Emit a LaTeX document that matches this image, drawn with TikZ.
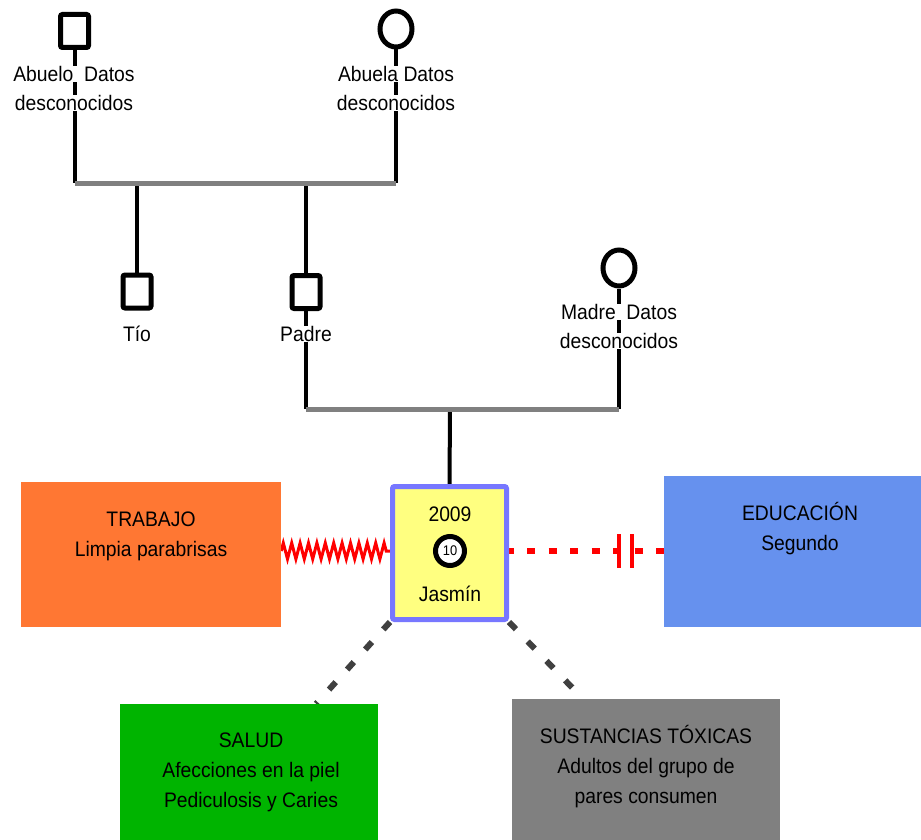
\documentclass[tikz,border=0pt]{standalone}
\usepackage{fontspec}
\setmainfont{Liberation Sans}[FakeStretch=0.92]
\usetikzlibrary{shapes.geometric,decorations.pathmorphing,backgrounds,calc}
\definecolor{barGrey}{HTML}{808080}
\definecolor{dashGrey}{HTML}{404040}
\definecolor{trabajoC}{HTML}{FF7733}
\definecolor{eduC}{HTML}{6691EE}
\definecolor{saludC}{HTML}{00B400}
\definecolor{sustC}{HTML}{808080}
\definecolor{egoFill}{HTML}{FFFF80}
\definecolor{egoLine}{HTML}{7777FF}
\definecolor{relRed}{HTML}{FF0000}
\begin{document}
\begin{tikzpicture}[x=1pt,y=-1pt,
  lbl/.style={font=\fontsize{21}{30}\selectfont, align=center, inner sep=1pt, text=black},
  lblw/.style={lbl, fill=white, inner sep=0.5pt},
  male/.style={draw, line width=5, minimum width=28, minimum height=33, rounded corners=2, fill=white, inner sep=0},
  female/.style={ellipse, draw, line width=5, minimum width=32, minimum height=36, fill=white, inner sep=0},
  life/.style={line width=4, draw=black},
  unionbar/.style={line width=5, draw=barGrey},
  areabox/.style={inner sep=0, draw=none},
  rel/.style={line width=6, draw=dashGrey, dash pattern=on 10pt off 17pt},
  conflict/.style={line width=6, draw=relRed, dash pattern=on 8pt off 13.5pt, dash phase=3.5pt},
  cut/.style={line width=4, draw=relRed},
  stress/.style={line width=3, draw=relRed, decorate, decoration={zigzag, segment length=8.4, amplitude=8}}
]
\useasboundingbox (0,0) rectangle (921,840);

% people
\node[male] (abuelo) at (74.5,31) {};
\node[lblw] (abuelol1) at (74,74) {Abuelo\ \ Datos};
\node[lblw] (abuelol2) at (74,103) {desconocidos};
\node[female] (abuela) at (396,29) {};
\node[lblw] (abuelal1) at (396,74) {Abuela Datos};
\node[lblw] (abuelal2) at (396,103) {desconocidos};
\node[male] (tio) at (137,291.5) {};
\node[lblw] (tiol) at (137,334) {Tío};
\node[male] (padre) at (306,292) {};
\node[lblw] (padrel) at (306,334) {Padre};
\node[female] (madre) at (619,268) {};
\node[lblw] (madrel1) at (619,312) {Madre\ \ Datos};
\node[lblw] (madrel2) at (619,341) {desconocidos};

\coordinate (b1L) at (74.5,183);
\coordinate (b1R) at (396,183);
\coordinate (t1) at (137,183);
\coordinate (p1) at (306,183);
\coordinate (b2L) at (306,409);
\coordinate (b2R) at (619,409);
\coordinate (c1) at (450,409);

% area boxes
\node[areabox, fill=trabajoC, minimum width=260, minimum height=145] (trabajo) at (151,554.5) {};
\node[lbl] (trabajol) at (151,536) {TRABAJO\\Limpia parabrisas};
\node[areabox, fill=eduC, minimum width=257, minimum height=151] (edu) at (792.5,551.5) {};
\node[lbl] (edul) at (800,529) {EDUCACIÓN\\Segundo};
\node[areabox, fill=saludC, minimum width=258, minimum height=136] (salud) at (249,772) {};
\node[lbl] (saludl) at (251,772) {SALUD\\Afecciones en la piel\\Pediculosis y Caries};
\node[areabox, fill=sustC, minimum width=268, minimum height=141] (sust) at (646,769.5) {};
\node[lbl] (sustl) at (646,767) {SUSTANCIAS TÓXICAS\\Adultos del grupo de\\pares consumen};

% ego
\node[draw=egoLine, fill=egoFill, line width=5, rounded corners=2, minimum width=114, minimum height=133, inner sep=0] (ego) at (449.5,553) {};
\node[lbl] (year) at (450,514) {2009};
\node[circle, draw, line width=5, fill=white, minimum size=29, inner sep=0, font=\fontsize{14}{14}\selectfont] (egoc) at (450,551) {10};
\node[lbl] (egoname) at (450,594) {Jasmín};

\begin{pgfonlayer}{background}
  \draw[life] (abuelo.south) -- (b1L);
  \draw[life] (abuela.south) -- (b1R);
  \draw[life] (t1) -- (tio.north);
  \draw[life] (p1) -- (padre.north);
  \draw[life] (padre.south) -- (b2L);
  \draw[life] (madre.south) -- (b2R);
  \draw[life] (c1) -- (ego.north);
  \draw[unionbar] (b1L) -- (b1R);
  \draw[unionbar] (b2L) -- (b2R);
  \draw[stress] (trabajo.east |- egoc.center) -- (ego.west |- egoc.center);
  \draw[conflict] (ego.east |- egoc.center) -- coordinate[pos=0.713] (k1) coordinate[pos=0.796] (k2) (edu.west |- egoc.center);
  \draw[cut] ($(k1)+(0,-17)$) -- ($(k1)+(0,17)$);
  \draw[cut] ($(k2)+(0,-17)$) -- ($(k2)+(0,17)$);
  \draw[rel] (ego.south west) -- ($(salud.north west)!0.76!(salud.north east)$);
  \draw[rel] (ego.south east) -- ($(sust.north west)!0.265!(sust.north east)$);
\end{pgfonlayer}
\end{tikzpicture}
\end{document}
